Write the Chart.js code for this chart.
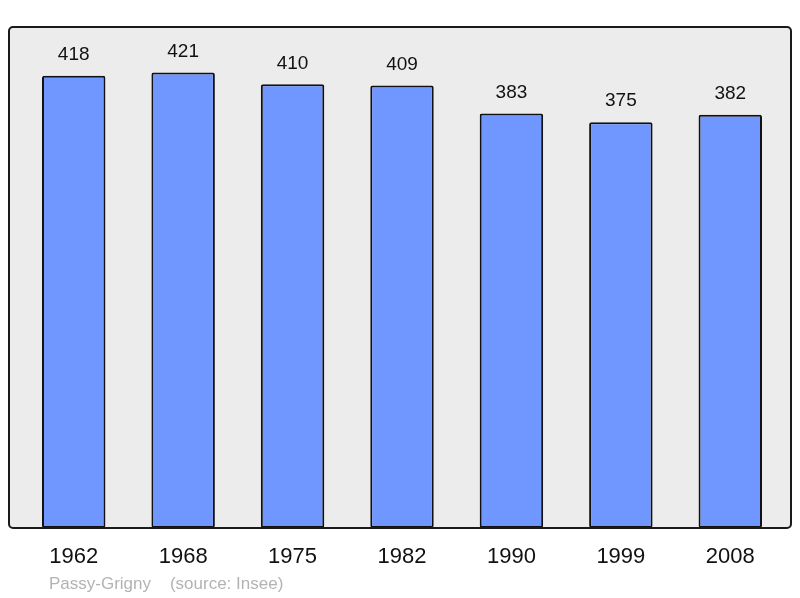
<!DOCTYPE html>
<html>
<head>
<meta charset="utf-8">
<script src="https://cdn.jsdelivr.net/npm/chart.js@4.4.1/dist/chart.umd.min.js"></script>
<style>
  html, body { margin:0; padding:0; background:#fff; }
  #c { display:block; }
</style>
</head>
<body>
<canvas id="c" width="800" height="598"></canvas>
<script>
const years = ['1962','1968','1975','1982','1990','1999','2008'];
const population = [418, 421, 410, 409, 383, 375, 382];
const yMax = 463;
const footer = 'Passy-Grigny    (source: Insee)';

// box behind the bars, slightly wider than the chart area
function boxPath(ctx, a){
  const x = a.left - 10, y = a.top, w = a.right - a.left + 16, h = a.bottom - a.top;
  ctx.beginPath();
  ctx.roundRect(x, y, w, h, 4);
}

const boxPlugin = {
  id:'box',
  beforeDatasetsDraw(chart){
    const ctx = chart.ctx;
    ctx.save();
    boxPath(ctx, chart.chartArea);
    ctx.fillStyle = '#ececec';
    ctx.fill();
    ctx.restore();
  },
  afterDatasetsDraw(chart){
    const ctx = chart.ctx, a = chart.chartArea;
    ctx.save();
    boxPath(ctx, a);
    ctx.lineWidth = 2;
    ctx.strokeStyle = '#1a1a1a';
    ctx.stroke();

    // value labels
    const meta = chart.getDatasetMeta(0);
    ctx.fillStyle = '#111';
    ctx.textAlign = 'center';
    ctx.textBaseline = 'middle';
    ctx.font = '19px "Liberation Sans", Arial, sans-serif';
    meta.data.forEach((bar, i) => {
      ctx.fillText(String(population[i]), bar.x, bar.y - 21);
    });

    // year labels
    const xs = chart.scales.x;
    ctx.font = '22px "Liberation Sans", Arial, sans-serif';
    years.forEach((y, i) => {
      ctx.fillText(y, xs.getPixelForValue(i), 557);
    });

    // footer
    ctx.textAlign = 'left';
    ctx.fillStyle = '#b3b3b3';
    ctx.font = '17px "Liberation Sans", Arial, sans-serif';
    ctx.fillText(footer, 49, 584);
    ctx.restore();
  }
};

new Chart(document.getElementById('c'), {
  type:'bar',
  data:{
    labels: years,
    datasets:[{
      data: population,
      backgroundColor:'#7097ff',
      borderColor:'#111',
      borderWidth:2,
      borderRadius:2,
      borderSkipped:false,
      barPercentage:0.58,
      categoryPercentage:1
    }]
  },
  options:{
    responsive:false,
    animation:false,
    layout:{padding:{left:19, right:15, top:27, bottom:70}},
    plugins:{legend:{display:false}, tooltip:{enabled:false}},
    scales:{
      x:{display:false},
      y:{display:false, min:0, max:yMax}
    }
  },
  plugins:[boxPlugin]
});
</script>
</body>
</html>
